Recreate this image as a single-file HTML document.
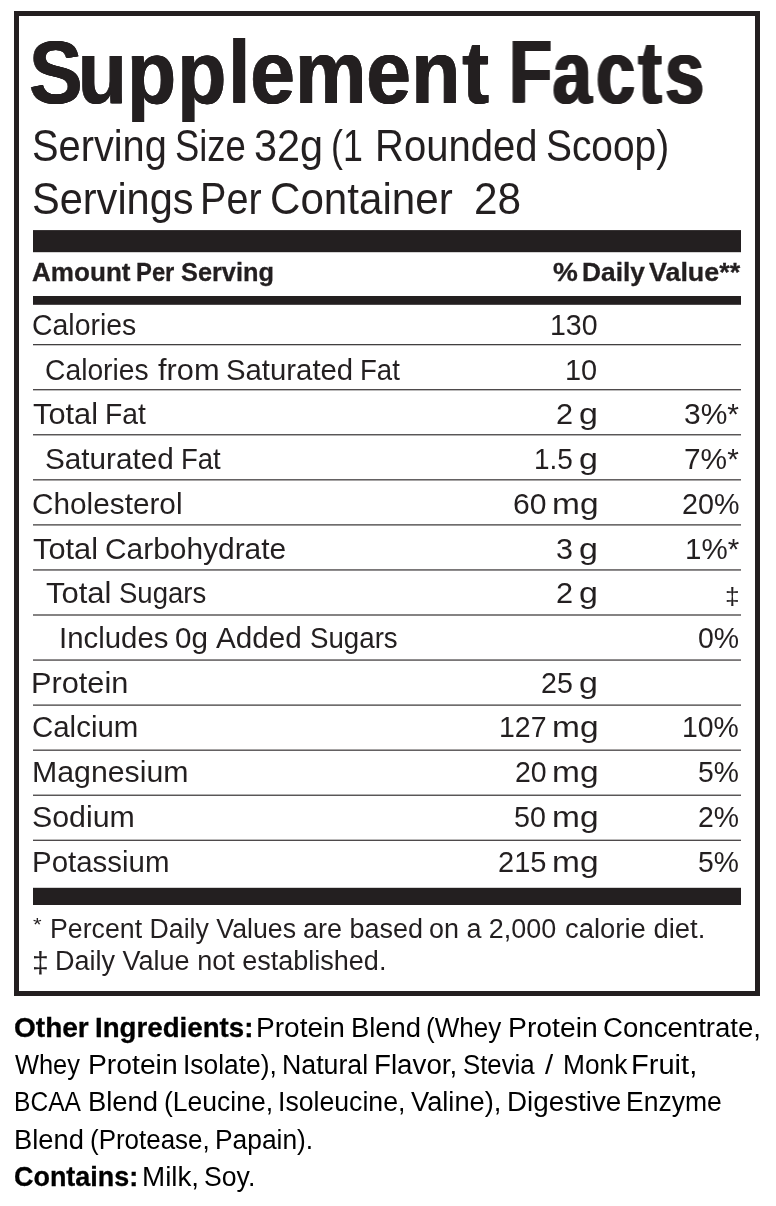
<!DOCTYPE html>
<html lang="en"><head><meta charset="utf-8"><title>Supplement Facts</title>
<style>
html,body{margin:0;padding:0;background:#fff}
body{width:776px;height:1206px;position:relative;overflow:hidden;font-family:"Liberation Sans",sans-serif;color:#231f20}
.shapes{position:absolute;left:0;top:0;display:block}
.t{position:absolute;white-space:pre;line-height:1;transform-origin:0 0;font-weight:400}
.b{font-weight:700}
</style></head><body>
<svg class="shapes" width="776" height="1206" viewBox="0 0 776 1206">
<rect x="16.5" y="13.5" width="741" height="980" fill="none" stroke="#231f20" stroke-width="5"/>
<rect x="33" y="230.1" width="708" height="22.1" fill="#231f20"/>
<rect x="33" y="296.0" width="708" height="8.8" fill="#231f20"/>
<rect x="33" y="344.15" width="708" height="1.1" fill="#231f20"/>
<rect x="33" y="389.20" width="708" height="1.1" fill="#231f20"/>
<rect x="33" y="434.25" width="708" height="1.1" fill="#231f20"/>
<rect x="33" y="479.30" width="708" height="1.1" fill="#231f20"/>
<rect x="33" y="524.35" width="708" height="1.1" fill="#231f20"/>
<rect x="33" y="569.40" width="708" height="1.1" fill="#231f20"/>
<rect x="33" y="614.45" width="708" height="1.1" fill="#231f20"/>
<rect x="33" y="659.50" width="708" height="1.1" fill="#231f20"/>
<rect x="33" y="704.55" width="708" height="1.1" fill="#231f20"/>
<rect x="33" y="749.60" width="708" height="1.1" fill="#231f20"/>
<rect x="33" y="794.65" width="708" height="1.1" fill="#231f20"/>
<rect x="33" y="839.70" width="708" height="1.1" fill="#231f20"/>
<rect x="33" y="887.8" width="708" height="17.2" fill="#231f20"/>
<text transform="scale(0.8968 1)" x="32.78 87.30 142.21 198.19 254.67 279.64 329.46 408.88 459.11 515.93" y="102.8" font-family="Liberation Sans, sans-serif" font-weight="700" font-size="89.5" fill="#231f20" stroke="#231f20" stroke-width="0" style="filter:drop-shadow(0.67px 0 0 #231f20) drop-shadow(-0.67px 0 0 #231f20)">Supplement</text>
<text transform="scale(0.7846 1)" x="649.47 704.83 760.34 814.10 848.09" y="102.8" font-family="Liberation Sans, sans-serif" font-weight="700" font-size="89.5" fill="#231f20" stroke="#231f20" stroke-width="0" style="filter:drop-shadow(1.66px 0 0 #231f20) drop-shadow(-1.66px 0 0 #231f20)">Facts</text>
</svg>
<header class="head">
<div class="row"><span class="t" style="left:31.95px;top:125px;font-size:43.5px;transform:scaleX(0.9141)">Serving</span> <span class="t" style="left:175.06px;top:125px;font-size:43.5px;transform:scaleX(0.8369)">Size</span> <span class="t" style="left:253.98px;top:125px;font-size:43.5px;transform:scaleX(0.9518)">32g</span> <span class="t" style="left:330.83px;top:125px;font-size:43.5px;transform:scaleX(0.8220)">(1</span> <span class="t" style="left:374.52px;top:125px;font-size:43.5px;transform:scaleX(0.9196)">Rounded</span> <span class="t" style="left:545.61px;top:125px;font-size:43.5px;transform:scaleX(0.8934)">Scoop)</span></div>
<div class="row"><span class="t" style="left:31.84px;top:178px;font-size:43.5px;transform:scaleX(0.9546)">Servings</span> <span class="t" style="left:200.15px;top:178px;font-size:43.5px;transform:scaleX(0.9096)">Per</span> <span class="t" style="left:269.99px;top:178px;font-size:43.5px;transform:scaleX(0.9687)">Container</span> <span class="t" style="left:474.28px;top:178px;font-size:43.5px;transform:scaleX(0.9734)">28</span></div>
</header>
<div class="cols">
<div class="row"><span class="t b" style="left:32.45px;top:259px;font-size:26px;transform:scaleX(1.0033);-webkit-text-stroke:0.3px currentColor">Amount</span> <span class="t b" style="left:136.36px;top:259px;font-size:26px;transform:scaleX(0.9155);-webkit-text-stroke:0.3px currentColor">Per</span> <span class="t b" style="left:180.76px;top:259px;font-size:26px;transform:scaleX(0.9748);-webkit-text-stroke:0.3px currentColor">Serving</span> <span class="t b" style="left:552.59px;top:259px;font-size:26px;transform:scaleX(1.0747);-webkit-text-stroke:0.3px currentColor">%</span> <span class="t b" style="left:582.04px;top:259px;font-size:26px;transform:scaleX(1.0130);-webkit-text-stroke:0.3px currentColor">Daily</span> <span class="t b" style="left:648.83px;top:259px;font-size:26px;transform:scaleX(1.0333);-webkit-text-stroke:0.3px currentColor">Value**</span></div>
</div>
<div class="rows">
<div class="row"><span class="t" style="left:32.27px;top:310px;font-size:29.5px;transform:scaleX(0.9637)">Calories</span> <span class="t" style="left:549.82px;top:310px;font-size:29.5px;transform:scaleX(0.9671)">130</span></div>
<div class="row"><span class="t" style="left:45.38px;top:355px;font-size:29.5px;transform:scaleX(0.9580)">Calories</span> <span class="t" style="left:157.85px;top:355px;font-size:29.5px;transform:scaleX(1.0430)">from</span> <span class="t" style="left:225.62px;top:355px;font-size:29.5px;transform:scaleX(0.9942)">Saturated</span> <span class="t" style="left:359.82px;top:355px;font-size:29.5px;transform:scaleX(0.9344)">Fat</span> <span class="t" style="left:564.98px;top:355px;font-size:29.5px;transform:scaleX(0.9819)">10</span></div>
<div class="row"><span class="t" style="left:33.21px;top:399px;font-size:29.5px;transform:scaleX(1.0425)">Total</span> <span class="t" style="left:104.57px;top:399px;font-size:29.5px;transform:scaleX(0.9570)">Fat</span> <span class="t" style="left:556.16px;top:399px;font-size:29.5px;transform:scaleX(1.0412)">2</span> <span class="t" style="left:579.34px;top:399px;font-size:29.5px;transform:scaleX(1.1524)">g</span> <span class="t" style="left:684.17px;top:399px;font-size:29.5px;transform:scaleX(1.0169)">3%*</span></div>
<div class="row"><span class="t" style="left:45.20px;top:444px;font-size:29.5px;transform:scaleX(1.0071)">Saturated</span> <span class="t" style="left:180.53px;top:444px;font-size:29.5px;transform:scaleX(0.9319)">Fat</span> <span class="t" style="left:533.97px;top:444px;font-size:29.5px;transform:scaleX(0.9470)">1.5</span> <span class="t" style="left:579.34px;top:444px;font-size:29.5px;transform:scaleX(1.1524)">g</span> <span class="t" style="left:684.46px;top:444px;font-size:29.5px;transform:scaleX(1.0115)">7%*</span></div>
<div class="row"><span class="t" style="left:32.19px;top:489px;font-size:29.5px;transform:scaleX(1.0087)">Cholesterol</span> <span class="t" style="left:512.87px;top:489px;font-size:29.5px;transform:scaleX(1.0205)">60</span> <span class="t" style="left:551.87px;top:489px;font-size:29.5px;transform:scaleX(1.1344)">mg</span> <span class="t" style="left:681.58px;top:489px;font-size:29.5px;transform:scaleX(0.9723)">20%</span></div>
<div class="row"><span class="t" style="left:33.21px;top:534px;font-size:29.5px;transform:scaleX(1.0425)">Total</span> <span class="t" style="left:105.09px;top:534px;font-size:29.5px;transform:scaleX(1.0137)">Carbohydrate</span> <span class="t" style="left:556.24px;top:534px;font-size:29.5px;transform:scaleX(1.0347)">3</span> <span class="t" style="left:579.34px;top:534px;font-size:29.5px;transform:scaleX(1.1524)">g</span> <span class="t" style="left:685.03px;top:534px;font-size:29.5px;transform:scaleX(1.0008)">1%*</span></div>
<div class="row"><span class="t" style="left:46.41px;top:578px;font-size:29.5px;transform:scaleX(1.0509)">Total</span> <span class="t" style="left:118.84px;top:578px;font-size:29.5px;transform:scaleX(0.9328)">Sugars</span> <span class="t" style="left:556.16px;top:578px;font-size:29.5px;transform:scaleX(1.0412)">2</span> <span class="t" style="left:579.34px;top:578px;font-size:29.5px;transform:scaleX(1.1524)">g</span> <span class="t" style="left:724.78px;top:584px;font-size:24px;transform:scaleX(1.0965)">‡</span></div>
<div class="row"><span class="t" style="left:59.09px;top:623px;font-size:29.5px;transform:scaleX(0.9960)">Includes</span> <span class="t" style="left:175.35px;top:623px;font-size:29.5px;transform:scaleX(1.0045)">0g</span> <span class="t" style="left:216.40px;top:623px;font-size:29.5px;transform:scaleX(1.0058)">Added</span> <span class="t" style="left:309.83px;top:623px;font-size:29.5px;transform:scaleX(0.9384)">Sugars</span> <span class="t" style="left:697.61px;top:623px;font-size:29.5px;transform:scaleX(0.9649)">0%</span></div>
<div class="row"><span class="t" style="left:31.46px;top:668px;font-size:29.5px;transform:scaleX(1.0419)">Protein</span> <span class="t" style="left:540.89px;top:668px;font-size:29.5px;transform:scaleX(0.9679)">25</span> <span class="t" style="left:579.34px;top:668px;font-size:29.5px;transform:scaleX(1.1524)">g</span></div>
<div class="row"><span class="t" style="left:32.21px;top:712px;font-size:29.5px;transform:scaleX(0.9977)">Calcium</span> <span class="t" style="left:499.12px;top:712px;font-size:29.5px;transform:scaleX(0.9648)">127</span> <span class="t" style="left:551.87px;top:712px;font-size:29.5px;transform:scaleX(1.1344)">mg</span> <span class="t" style="left:682.13px;top:712px;font-size:29.5px;transform:scaleX(0.9628)">10%</span></div>
<div class="row"><span class="t" style="left:31.50px;top:757px;font-size:29.5px;transform:scaleX(1.0264)">Magnesium</span> <span class="t" style="left:514.59px;top:757px;font-size:29.5px;transform:scaleX(0.9655)">20</span> <span class="t" style="left:551.87px;top:757px;font-size:29.5px;transform:scaleX(1.1344)">mg</span> <span class="t" style="left:697.89px;top:757px;font-size:29.5px;transform:scaleX(0.9581)">5%</span></div>
<div class="row"><span class="t" style="left:32.06px;top:802px;font-size:29.5px;transform:scaleX(1.0279)">Sodium</span> <span class="t" style="left:514.47px;top:802px;font-size:29.5px;transform:scaleX(0.9694)">50</span> <span class="t" style="left:551.87px;top:802px;font-size:29.5px;transform:scaleX(1.1344)">mg</span> <span class="t" style="left:697.70px;top:802px;font-size:29.5px;transform:scaleX(0.9627)">2%</span></div>
<div class="row"><span class="t" style="left:31.57px;top:847px;font-size:29.5px;transform:scaleX(0.9977)">Potassium</span> <span class="t" style="left:498.26px;top:847px;font-size:29.5px;transform:scaleX(0.9832)">215</span> <span class="t" style="left:551.87px;top:847px;font-size:29.5px;transform:scaleX(1.1344)">mg</span> <span class="t" style="left:697.89px;top:847px;font-size:29.5px;transform:scaleX(0.9581)">5%</span></div>
</div>
<footer class="foot">
<div class="row"><span class="t" style="left:33.43px;top:915px;font-size:19px;transform:scaleX(1.1664)">*</span> <span class="t" style="left:49.58px;top:916px;font-size:27px;transform:scaleX(0.9896)">Percent Daily Values</span> <span class="t" style="left:303.07px;top:916px;font-size:27px;transform:scaleX(0.9993)">are based</span> <span class="t" style="left:429.36px;top:916px;font-size:27px;transform:scaleX(0.9966)">on a 2,000</span> <span class="t" style="left:564.52px;top:916px;font-size:27px;transform:scaleX(1.0160)">calorie diet.</span></div>
<div class="row"><span class="t" style="left:31.58px;top:948px;font-size:30px;transform:scaleX(1.0082)">‡</span> <span class="t" style="left:55.06px;top:948px;font-size:27px;transform:scaleX(1.0006)">Daily Value not established.</span></div>
</footer>
<section class="other">
<div class="row"><span class="t b" style="left:13.54px;top:1015px;font-size:27px;transform:scaleX(1.0384);color:#000;-webkit-text-stroke:0.3px currentColor">Other</span> <span class="t b" style="left:94.54px;top:1015px;font-size:27px;transform:scaleX(1.0249);color:#000;-webkit-text-stroke:0.3px currentColor">Ingredients:</span> <span class="t" style="left:256.37px;top:1015px;font-size:27px;transform:scaleX(1.0391);color:#000">Protein</span> <span class="t" style="left:350.63px;top:1015px;font-size:27px;transform:scaleX(1.0144);color:#000">Blend</span> <span class="t" style="left:425.88px;top:1015px;font-size:27px;transform:scaleX(0.9640);color:#000">(Whey</span> <span class="t" style="left:507.95px;top:1015px;font-size:27px;transform:scaleX(1.0490);color:#000">Protein</span> <span class="t" style="left:602.71px;top:1015px;font-size:27px;transform:scaleX(1.0223);color:#000">Concentrate,</span></div>
<div class="row"><span class="t" style="left:14.52px;top:1052px;font-size:27px;transform:scaleX(0.9411);color:#000">Whey</span> <span class="t" style="left:87.85px;top:1052px;font-size:27px;transform:scaleX(1.0477);color:#000">Protein</span> <span class="t" style="left:183.26px;top:1052px;font-size:27px;transform:scaleX(0.9778);color:#000">Isolate),</span> <span class="t" style="left:282.48px;top:1052px;font-size:27px;transform:scaleX(0.9898);color:#000">Natural</span> <span class="t" style="left:374.10px;top:1052px;font-size:27px;transform:scaleX(1.0278);color:#000">Flavor,</span> <span class="t" style="left:463.01px;top:1052px;font-size:27px;transform:scaleX(0.9553);color:#000">Stevia</span> <span class="t" style="left:545.07px;top:1052px;font-size:27px;transform:scaleX(1.0853);color:#000">/</span> <span class="t" style="left:562.62px;top:1052px;font-size:27px;transform:scaleX(0.9737);color:#000">Monk</span> <span class="t" style="left:631.39px;top:1052px;font-size:27px;transform:scaleX(1.0764);color:#000">Fruit,</span></div>
<div class="row"><span class="t" style="left:14.36px;top:1089px;font-size:27px;transform:scaleX(0.9106);color:#000">BCAA</span> <span class="t" style="left:87.93px;top:1089px;font-size:27px;transform:scaleX(1.0144);color:#000">Blend</span> <span class="t" style="left:164.34px;top:1089px;font-size:27px;transform:scaleX(0.9819);color:#000">(Leucine,</span> <span class="t" style="left:278.43px;top:1089px;font-size:27px;transform:scaleX(0.9869);color:#000">Isoleucine,</span> <span class="t" style="left:411.07px;top:1089px;font-size:27px;transform:scaleX(1.0096);color:#000">Valine),</span> <span class="t" style="left:506.70px;top:1089px;font-size:27px;transform:scaleX(1.0289);color:#000">Digestive</span> <span class="t" style="left:625.80px;top:1089px;font-size:27px;transform:scaleX(0.9824);color:#000">Enzyme</span></div>
<div class="row"><span class="t" style="left:14.14px;top:1127px;font-size:27px;transform:scaleX(1.0113);color:#000">Blend</span> <span class="t" style="left:89.58px;top:1127px;font-size:27px;transform:scaleX(0.9608);color:#000">(Protease,</span> <span class="t" style="left:214.71px;top:1127px;font-size:27px;transform:scaleX(0.9764);color:#000">Papain).</span></div>
<div class="row"><span class="t b" style="left:13.62px;top:1164px;font-size:27px;transform:scaleX(0.9968);color:#000;-webkit-text-stroke:0.3px currentColor">Contains:</span> <span class="t" style="left:142.20px;top:1164px;font-size:27px;transform:scaleX(1.0284);color:#000">Milk,</span> <span class="t" style="left:204.25px;top:1164px;font-size:27px;transform:scaleX(0.9865);color:#000">Soy.</span></div>
</section>
</body></html>
